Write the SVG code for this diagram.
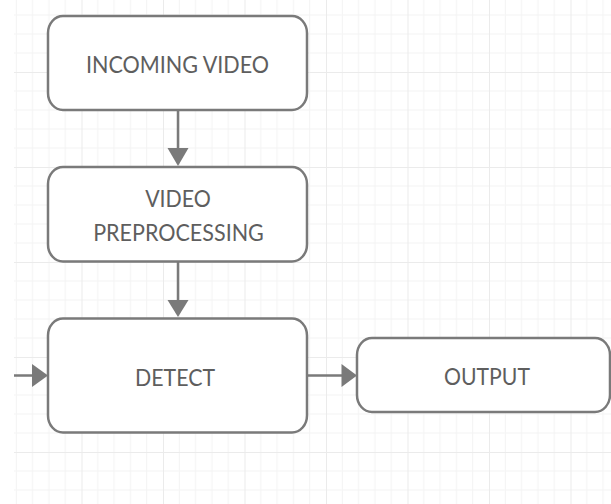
<svg xmlns="http://www.w3.org/2000/svg" width="611" height="504" viewBox="0 0 611 504">
<defs>
<pattern id="grid" patternUnits="userSpaceOnUse" x="0" y="-23" width="81.5" height="95">
<g stroke="#f3f3f3" stroke-width="1">
<line x1="16.3" y1="0" x2="16.3" y2="95"/>
<line x1="32.6" y1="0" x2="32.6" y2="95"/>
<line x1="48.9" y1="0" x2="48.9" y2="95"/>
<line x1="65.2" y1="0" x2="65.2" y2="95"/>
<line x1="0" y1="19" x2="81.5" y2="19"/>
<line x1="0" y1="38" x2="81.5" y2="38"/>
<line x1="0" y1="57" x2="81.5" y2="57"/>
<line x1="0" y1="76" x2="81.5" y2="76"/>
</g>
<g stroke="#ebebeb" stroke-width="2">
<line x1="0" y1="0" x2="0" y2="95"/>
<line x1="0" y1="0" x2="81.5" y2="0"/>
</g>
</pattern>
</defs>
<style>
.node rect{fill:#ffffff;stroke:#7a7a7a;stroke-width:2.5}
.node text{font-family:Lato,"Open Sans","Liberation Sans",sans-serif;font-size:24px;fill:#5e5e5e;text-anchor:middle}
.conn line{stroke:#7a7a7a;stroke-width:2.5}
.conn polygon{fill:#7a7a7a}
</style>
<rect x="0" y="0" width="611" height="504" fill="#ffffff"/>
<rect x="14" y="0" width="597" height="504" fill="url(#grid)"/>
<g id="connectors" class="conn">
<line x1="178" y1="110" x2="178" y2="150"/>
<polygon points="167.5,148 188.5,148 178,166"/>
<line x1="178" y1="262" x2="178" y2="302"/>
<polygon points="167.5,300 188.5,300 178,317"/>
<line x1="14" y1="375.5" x2="34" y2="375.5"/>
<polygon points="32,364 32,387 48,375.5"/>
<line x1="307" y1="375.5" x2="343" y2="375.5"/>
<polygon points="341.5,364 341.5,387 357,375.5"/>
</g>
<g id="incoming" class="node">
<rect x="48" y="16" width="259" height="94" rx="15" ry="17"/>
<text x="177.5" y="72.5" textLength="183" lengthAdjust="spacingAndGlyphs">INCOMING VIDEO</text>
</g>
<g id="preprocessing" class="node">
<rect x="48" y="167" width="259" height="94.5" rx="15" ry="17"/>
<text x="178" y="206.7" textLength="65.7" lengthAdjust="spacingAndGlyphs">VIDEO</text>
<text x="178.5" y="240.7" textLength="170.7" lengthAdjust="spacingAndGlyphs">PREPROCESSING</text>
</g>
<g id="detect" class="node">
<rect x="48" y="318.5" width="259" height="114" rx="15" ry="17"/>
<text x="175" y="386" textLength="80" lengthAdjust="spacingAndGlyphs">DETECT</text>
</g>
<g id="output" class="node">
<rect x="357" y="338" width="253" height="74" rx="15" ry="17"/>
<text x="487" y="385" textLength="86" lengthAdjust="spacingAndGlyphs">OUTPUT</text>
</g>
</svg>
